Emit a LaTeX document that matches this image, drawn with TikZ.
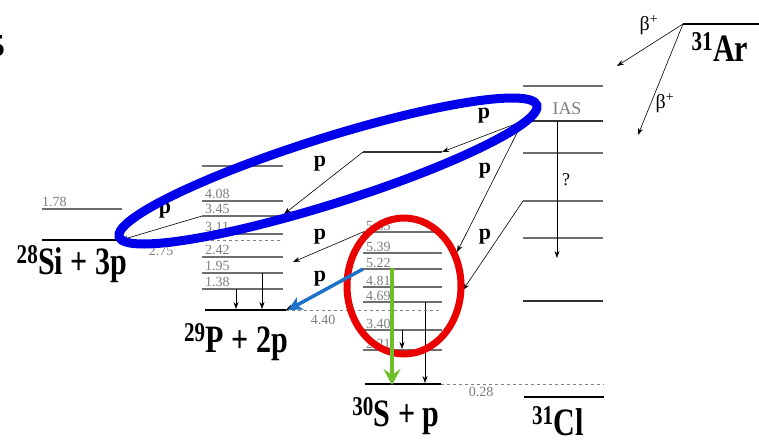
\documentclass[tikz,border=0pt]{standalone}
\usepackage{fontspec}
\setmainfont{Liberation Serif}
\usetikzlibrary{arrows.meta,calc}
\definecolor{numgray}{RGB}{125,125,125}
\definecolor{lvlgray}{RGB}{110,110,110}
\definecolor{ovblue}{RGB}{0,0,235}
\definecolor{ovred}{RGB}{235,0,0}
\definecolor{arrblue}{RGB}{30,115,200}
\definecolor{arrgreen}{RGB}{110,190,40}
\newcommand\talltxt[1]{\scalebox{0.97}[1.25]{#1}}
\begin{document}
\begin{tikzpicture}[x=1pt,y=-1pt,
  lvl/.style={draw=lvlgray, line width=1.1pt},
  lvlk/.style={draw=black!80, line width=1.1pt},
  gs/.style={draw=black, line width=2.6pt},
  dsh/.style={draw=black!50, line width=1pt, dash pattern=on 3pt off 3pt},
  num/.style={text=numgray, font=\fontsize{14}{14}\selectfont, inner sep=0pt, anchor=base west},
  numc/.style={text=numgray, font=\fontsize{14}{14}\selectfont, inner sep=0pt},
  parr/.style={-{Stealth[length=7pt,width=5pt]}, line width=0.6pt, draw=black},
  plab/.style={font=\fontsize{22}{22}\selectfont\bfseries, inner sep=0pt},
  blab/.style={font=\fontsize{20}{20}\selectfont, inner sep=0pt},
  big/.style={font=\fontsize{31}{31}\selectfont\bfseries, inner sep=0pt}]
\useasboundingbox (0,0) rectangle (759,441);

% cropped glyph at the top-left
\node[font=\fontsize{32}{32}\selectfont\bfseries, inner sep=0pt, anchor=east] (corner) at (5,46) {5};

% ---------- 31Ar ----------
\draw[gs] (683,24) coordinate (arl) -- (759,24) coordinate (arr);
\node[big] (arlab) at (720,47) {\talltxt{\textsuperscript{31}Ar}};
\coordinate (b1) at (617,66);
\coordinate (b2) at (638,135);
\draw[parr] (arl) -- (b1);
\draw[parr] (arl) -- (b2);
\node[blab] (bl1) at (649,25) {β\textsuperscript{+}};
\node[blab] (bl2) at (665,103) {β\textsuperscript{+}};

% ---------- 31Cl ----------
\draw[lvl] (523,86) -- (603,86);
\draw[lvlk] (523,121) coordinate (iasl) -- (603,121);
\draw[lvl] (523,153) -- (603,153);
\draw[lvl] (523,201) coordinate (cl4l) -- (603,201);
\draw[lvl] (523,238) -- (603,238);
\draw[lvlk] (523,301) -- (603,301);
\draw[gs] (524,397) -- (604,397);
\node[font=\fontsize{18}{18}\selectfont, text=numgray, inner sep=0pt] (ias) at (567,109) {IAS};
\coordinate (qtop) at (557,121);
\coordinate (qend) at (557,258);
\draw[parr] (qtop) -- (qend);
\node[font=\fontsize{18}{18}\selectfont, inner sep=0pt] (qm) at (566,180) {?};
\node[big] (cllab) at (558,421) {\talltxt{\textsuperscript{31}Cl}};

% ---------- 30S + p ----------
\draw[lvlk] (363,152) coordinate (s8l) -- (442,152) coordinate (s8r);
\draw[lvl] (363,232) coordinate (s7l) -- (442,232);
\draw[lvl] (363,253) -- (442,253) coordinate (s6r);
\draw[lvl] (363,269) coordinate (s5l) -- (442,269);
\draw[lvl] (363,287) -- (442,287) coordinate (s4r);
\draw[lvl] (363,302) -- (442,302);
\draw[lvl] (363,330) -- (442,330);
\draw[lvl] (363,350) -- (442,350);
\draw[gs] (365,384) coordinate (sgl) -- (441,384) coordinate (sgr);
\node[num] (l585) at (366,230) {5.85};
\node[num] (l539) at (366,251) {5.39};
\node[num] (l522) at (366,267) {5.22};
\node[num] (l481) at (366,285) {4.81};
\node[num] (l469) at (366,300) {4.69};
\node[num] (l340) at (366,328) {3.40};
\node[num] (l221) at (366,348) {2.21};
\draw[dsh] (sgr) -- (604,384);
\node[numc] (l028) at (481,392) {0.28};
\node[big] (slab) at (396,416) {\talltxt{\textsuperscript{30}S + p}};
% gamma decays in 30S
\coordinate (g3a) at (402,330); \coordinate (g3b) at (402,349);
\coordinate (g4a) at (425,302); \coordinate (g4b) at (425,383);
\draw[parr] (g3a) -- (g3b);
\draw[parr] (g4a) -- (g4b);

% ---------- 29P + 2p ----------
\draw[lvl] (202,166) -- (283,166);
\draw[lvl] (202,201) -- (283,201);
\draw[lvl] (202,216) coordinate (p345l) -- (283,216) coordinate (p345r);
\draw[lvl] (202,234) -- (283,234);
\draw[lvl] (202,257) -- (283,257) coordinate (p242r);
\draw[lvl] (202,273) -- (283,273);
\draw[lvl] (202,289) -- (283,289);
\draw[gs] (205,310) coordinate (pgl) -- (286,310) coordinate (pgr);
\node[num] (l408) at (205,198) {4.08};
\node[num] (l345) at (205,213) {3.45};
\node[num] (l311) at (205,231) {3.11};
\node[num] (l242) at (205,254) {2.42};
\node[num] (l195) at (205,270) {1.95};
\node[num] (l138) at (205,286) {1.38};
\draw[dsh] (pgr) -- (442,310);
\node[numc] (l440) at (323,320) {4.40};
\node[big] (plab29) at (236,342) {\talltxt{\textsuperscript{29}P + 2p}};
\coordinate (g1a) at (262,273); \coordinate (g1b) at (262,309);
\coordinate (g2a) at (236,289); \coordinate (g2b) at (236,309);
\draw[parr] (g1a) -- (g1b);
\draw[parr] (g2a) -- (g2b);

% ---------- 28Si + 3p ----------
\draw[lvl] (42,209) -- (122,209);
\node[num] (l178) at (42,206) {1.78};
\draw[gs] (42,240) coordinate (sigl) -- (121,240) coordinate (sigr);
\draw[dsh] (sigr) -- (283,240);
\node[numc] (l275) at (161,251) {2.75};
\node[big] (silab) at (72,264) {\talltxt{\textsuperscript{28}Si + 3p}};

% ---------- proton emissions ----------
\coordinate (e3) at (457,252);
\coordinate (e4) at (463,290);
\coordinate (e5) at (293,262);
\draw[parr] (iasl) -- (s8r);
\draw[parr] (s8l) -- ($(p345r)+(1,-2)$);
\draw[parr] (iasl) -- (e3);
\draw[parr] (cl4l) -- (e4);
\draw[parr] (s7l) -- (e5);
\draw[parr] (s5l) -- (pgr);
\draw[parr] (p345l) -- (sigr);
\node[plab] (pa) at (484,116) {p};
\node[plab] (pb) at (320,164) {p};
\node[plab] (pc) at (485,171) {p};
\node[plab] (pd) at (485,237) {p};
\node[plab] (pe) at (320,237) {p};
\node[plab] (pf) at (320,279) {p};
\node[plab] (pg) at (165,211) {p};

% ---------- highlights ----------
\draw[ovblue, line width=9pt] (328,171) ellipse [x radius=219, y radius=33, rotate=17.5];
\draw[ovred, line width=7pt] (404,286) ellipse [x radius=57, y radius=68];
\draw[arrblue, line width=3.5pt, -{Stealth[length=14pt,width=14pt,inset=4pt]}] (s5l) -- ($(pgr)+(2,0)$);
\coordinate (gt) at (392,268);
\coordinate (gb) at (392,385);
\draw[arrgreen, line width=4pt, -{Stealth[length=16pt,width=17pt,inset=6pt]}] (gt) -- (gb);
\end{tikzpicture}
\end{document}
